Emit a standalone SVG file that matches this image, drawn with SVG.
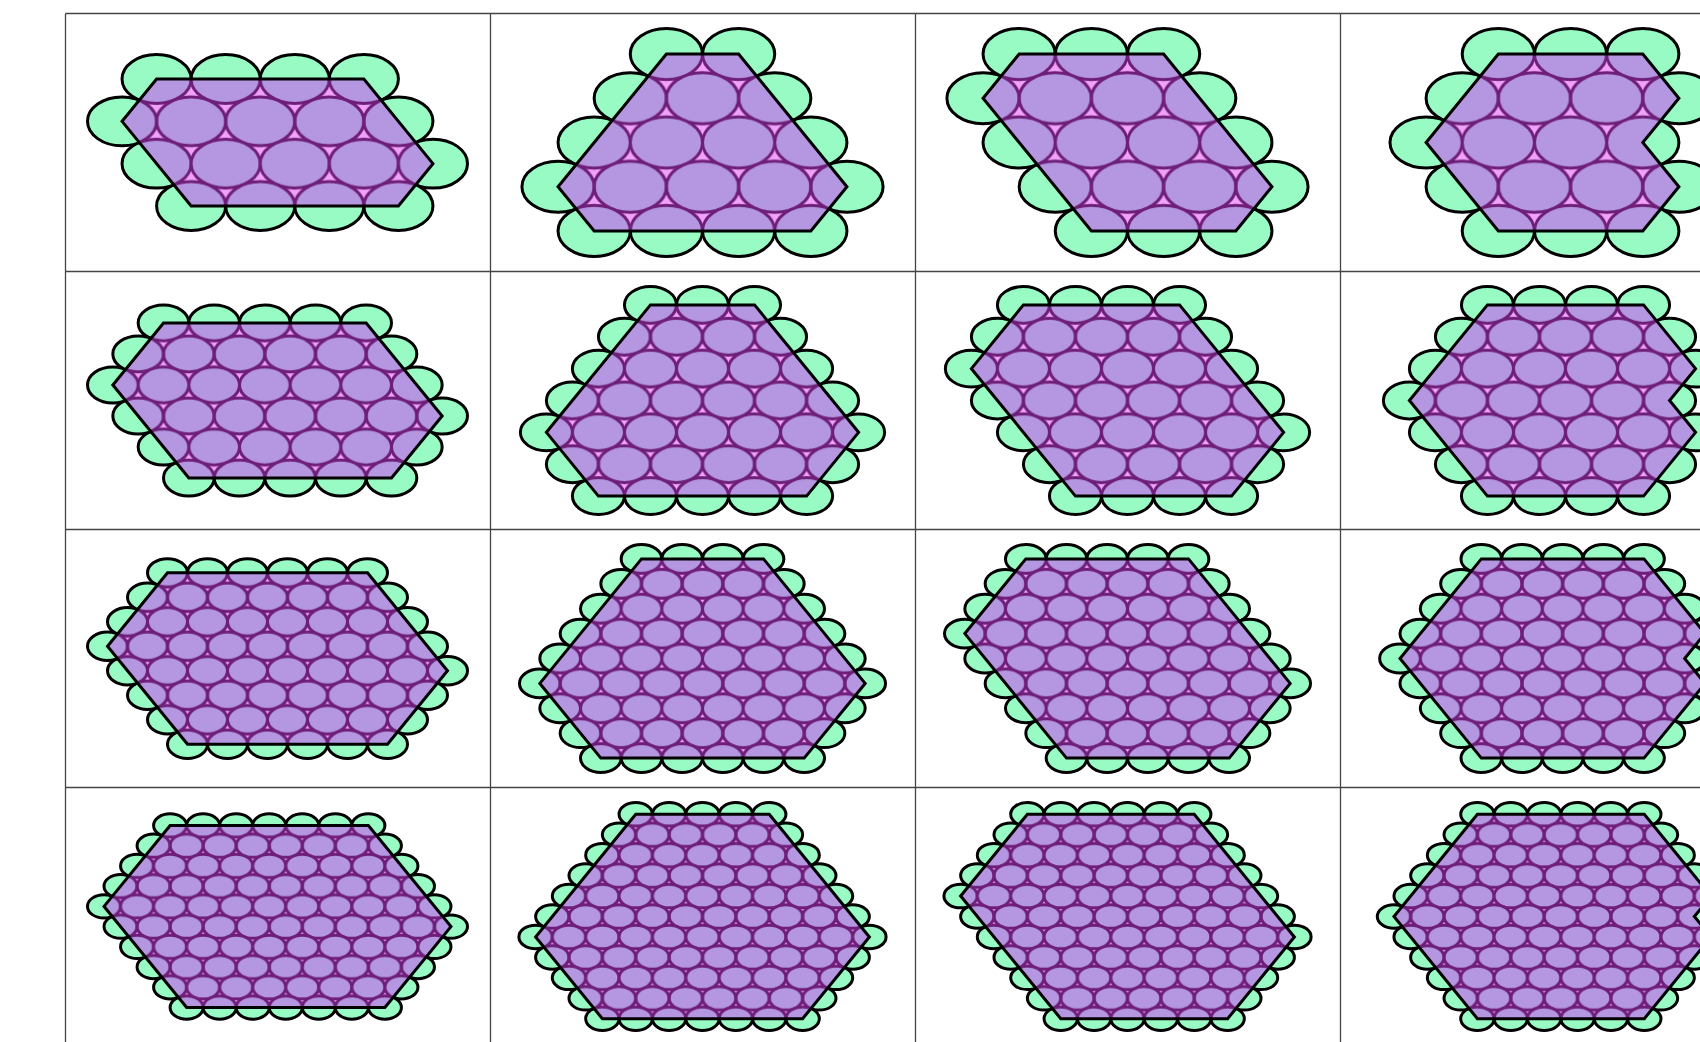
<svg xmlns="http://www.w3.org/2000/svg" xmlns:xlink="http://www.w3.org/1999/xlink" width="1700" height="1042" viewBox="0 0 1700 1042">
<style>
.gr{fill:#99fbc4;stroke:#000;stroke-width:3;vector-effect:non-scaling-stroke}
.hx{stroke:#000;stroke-width:3;stroke-linejoin:miter;vector-effect:non-scaling-stroke}
.pk{fill:#f0a2f8}
.pe ellipse{fill:#b497e0;stroke:#6e1e78;stroke-width:3}
#grid line{stroke:#444;stroke-width:1.3}
</style>
<defs>
<ellipse id="g" class="gr" rx="1" ry="0.57735"/>
<pattern id="pA0" patternUnits="userSpaceOnUse" width="69.09" height="84.618" patternTransform="scale(0.028948 0.023636)"><rect x="-1" y="-1" width="71.09" height="86.618" class="pk"/><g class="pe"><ellipse rx="34.545" ry="24.427"/><ellipse cx="69.09" rx="34.545" ry="24.427"/><ellipse cx="34.545" cy="42.309" rx="34.545" ry="24.427"/><ellipse cy="84.618" rx="34.545" ry="24.427"/><ellipse cx="69.09" cy="84.618" rx="34.545" ry="24.427"/><ellipse cx="-34.545" cy="42.309" rx="34.545" ry="24.427"/><ellipse cx="103.635" cy="42.309" rx="34.545" ry="24.427"/></g></pattern>
<pattern id="pB0" patternUnits="userSpaceOnUse" width="72.23" height="88.464" patternTransform="scale(0.027689 0.022608)"><rect x="-1" y="-1" width="74.23" height="90.464" class="pk"/><g class="pe"><ellipse rx="36.115" ry="25.537"/><ellipse cx="72.23" rx="36.115" ry="25.537"/><ellipse cx="36.115" cy="44.232" rx="36.115" ry="25.537"/><ellipse cy="88.464" rx="36.115" ry="25.537"/><ellipse cx="72.23" cy="88.464" rx="36.115" ry="25.537"/><ellipse cx="-36.115" cy="44.232" rx="36.115" ry="25.537"/><ellipse cx="108.345" cy="44.232" rx="36.115" ry="25.537"/></g></pattern>
<pattern id="pA1" patternUnits="userSpaceOnUse" width="50.666" height="62.054" patternTransform="scale(0.039474 0.03223)"><rect x="-1" y="-1" width="52.666" height="64.054" class="pk"/><g class="pe"><ellipse rx="25.333" ry="17.913"/><ellipse cx="50.666" rx="25.333" ry="17.913"/><ellipse cx="25.333" cy="31.027" rx="25.333" ry="17.913"/><ellipse cy="62.054" rx="25.333" ry="17.913"/><ellipse cx="50.666" cy="62.054" rx="25.333" ry="17.913"/><ellipse cx="-25.333" cy="31.027" rx="25.333" ry="17.913"/><ellipse cx="75.999" cy="31.027" rx="25.333" ry="17.913"/></g></pattern>
<pattern id="pB1" patternUnits="userSpaceOnUse" width="52.038" height="63.734" patternTransform="scale(0.038433 0.03138)"><rect x="-1" y="-1" width="54.038" height="65.734" class="pk"/><g class="pe"><ellipse rx="26.019" ry="18.398"/><ellipse cx="52.038" rx="26.019" ry="18.398"/><ellipse cx="26.019" cy="31.867" rx="26.019" ry="18.398"/><ellipse cy="63.734" rx="26.019" ry="18.398"/><ellipse cx="52.038" cy="63.734" rx="26.019" ry="18.398"/><ellipse cx="-26.019" cy="31.867" rx="26.019" ry="18.398"/><ellipse cx="78.057" cy="31.867" rx="26.019" ry="18.398"/></g></pattern>
<pattern id="pA2" patternUnits="userSpaceOnUse" width="40" height="48.99" patternTransform="scale(0.05 0.040825)"><rect x="-1" y="-1" width="42" height="50.99" class="pk"/><g class="pe"><ellipse rx="20" ry="14.142"/><ellipse cx="40" rx="20" ry="14.142"/><ellipse cx="20" cy="24.495" rx="20" ry="14.142"/><ellipse cy="48.99" rx="20" ry="14.142"/><ellipse cx="40" cy="48.99" rx="20" ry="14.142"/><ellipse cx="-20" cy="24.495" rx="20" ry="14.142"/><ellipse cx="60" cy="24.495" rx="20" ry="14.142"/></g></pattern>
<pattern id="pB2" patternUnits="userSpaceOnUse" width="40.67" height="49.81" patternTransform="scale(0.049176 0.040153)"><rect x="-1" y="-1" width="42.67" height="51.81" class="pk"/><g class="pe"><ellipse rx="20.335" ry="14.379"/><ellipse cx="40.67" rx="20.335" ry="14.379"/><ellipse cx="20.335" cy="24.905" rx="20.335" ry="14.379"/><ellipse cy="49.81" rx="20.335" ry="14.379"/><ellipse cx="40.67" cy="49.81" rx="20.335" ry="14.379"/><ellipse cx="-20.335" cy="24.905" rx="20.335" ry="14.379"/><ellipse cx="61.005" cy="24.905" rx="20.335" ry="14.379"/></g></pattern>
<pattern id="pA3" patternUnits="userSpaceOnUse" width="33.044" height="40.47" patternTransform="scale(0.060525 0.049419)"><rect x="-1" y="-1" width="35.044" height="42.47" class="pk"/><g class="pe"><ellipse rx="16.522" ry="11.683"/><ellipse cx="33.044" rx="16.522" ry="11.683"/><ellipse cx="16.522" cy="20.235" rx="16.522" ry="11.683"/><ellipse cy="40.47" rx="16.522" ry="11.683"/><ellipse cx="33.044" cy="40.47" rx="16.522" ry="11.683"/><ellipse cx="-16.522" cy="20.235" rx="16.522" ry="11.683"/><ellipse cx="49.566" cy="20.235" rx="16.522" ry="11.683"/></g></pattern>
<pattern id="pB3" patternUnits="userSpaceOnUse" width="33.378" height="40.88" patternTransform="scale(0.05992 0.048924)"><rect x="-1" y="-1" width="35.378" height="42.88" class="pk"/><g class="pe"><ellipse rx="16.689" ry="11.801"/><ellipse cx="33.378" rx="16.689" ry="11.801"/><ellipse cx="16.689" cy="20.44" rx="16.689" ry="11.801"/><ellipse cy="40.88" rx="16.689" ry="11.801"/><ellipse cx="33.378" cy="40.88" rx="16.689" ry="11.801"/><ellipse cx="-16.689" cy="20.44" rx="16.689" ry="11.801"/><ellipse cx="50.067" cy="20.44" rx="16.689" ry="11.801"/></g></pattern>
</defs>
<rect width="1700" height="1042" fill="#fff"/>
<g id="grid">
<line x1="65.5" y1="13.5" x2="65.5" y2="1042"/>
<line x1="490.5" y1="13.5" x2="490.5" y2="1042"/>
<line x1="915.5" y1="13.5" x2="915.5" y2="1042"/>
<line x1="1340.5" y1="13.5" x2="1340.5" y2="1042"/>
<line x1="65.5" y1="13.5" x2="1700" y2="13.5"/>
<line x1="65.5" y1="271.5" x2="1700" y2="271.5"/>
<line x1="65.5" y1="529.5" x2="1700" y2="529.5"/>
<line x1="65.5" y1="787.5" x2="1700" y2="787.5"/>
</g>

<g id="cell-0-0" transform="translate(156.59 79.04) scale(34.545 42.309)">
<use href="#g"/><use href="#g" x="2"/><use href="#g" x="4"/><use href="#g" x="6"/><use href="#g" x="7" y="1"/><use href="#g" x="8" y="2"/><use href="#g" x="7" y="3"/><use href="#g" x="5" y="3"/><use href="#g" x="3" y="3"/><use href="#g" x="1" y="3"/><use href="#g" y="2"/><use href="#g" x="-1" y="1"/>
<polygon class="hx" fill="url(#pA0)" points="0,0 6,0 8,2 7,3 1,3 -1,1"/>
</g>
<g id="cell-0-1" transform="translate(666.39 54.04) scale(36.115 44.232)">
<use href="#g"/><use href="#g" x="2"/><use href="#g" x="3" y="1"/><use href="#g" x="4" y="2"/><use href="#g" x="5" y="3"/><use href="#g" x="4" y="4"/><use href="#g" x="2" y="4"/><use href="#g" y="4"/><use href="#g" x="-2" y="4"/><use href="#g" x="-3" y="3"/><use href="#g" x="-2" y="2"/><use href="#g" x="-1" y="1"/>
<polygon class="hx" fill="url(#pB0)" points="0,0 2,0 5,3 4,4 -2,4 -3,3"/>
</g>
<g id="cell-0-2" transform="translate(1019.15 54.04) scale(36.115 44.232)">
<use href="#g"/><use href="#g" x="2"/><use href="#g" x="4"/><use href="#g" x="5" y="1"/><use href="#g" x="6" y="2"/><use href="#g" x="7" y="3"/><use href="#g" x="6" y="4"/><use href="#g" x="4" y="4"/><use href="#g" x="2" y="4"/><use href="#g" x="1" y="3"/><use href="#g" y="2"/><use href="#g" x="-1" y="1"/>
<polygon class="hx" fill="url(#pB0)" points="0,0 4,0 7,3 6,4 2,4 -1,1"/>
</g>
<g id="cell-0-3" transform="translate(1498.33 54.04) scale(36.115 44.232)">
<use href="#g"/><use href="#g" x="2"/><use href="#g" x="4"/><use href="#g" x="5" y="1"/><use href="#g" x="4" y="2"/><use href="#g" x="5" y="3"/><use href="#g" x="4" y="4"/><use href="#g" x="2" y="4"/><use href="#g" y="4"/><use href="#g" x="-1" y="3"/><use href="#g" x="-2" y="2"/><use href="#g" x="-1" y="1"/>
<polygon class="hx" fill="url(#pB0)" points="0,0 4,0 5,1 4,2 5,3 4,4 0,4 -2,2"/>
</g>

<g id="cell-1-0" transform="translate(163.5 322.93) scale(25.333 31.027)">
<use href="#g"/><use href="#g" x="2"/><use href="#g" x="4"/><use href="#g" x="6"/><use href="#g" x="8"/><use href="#g" x="9" y="1"/><use href="#g" x="10" y="2"/><use href="#g" x="11" y="3"/><use href="#g" x="10" y="4"/><use href="#g" x="9" y="5"/><use href="#g" x="7" y="5"/><use href="#g" x="5" y="5"/><use href="#g" x="3" y="5"/><use href="#g" x="1" y="5"/><use href="#g" y="4"/><use href="#g" x="-1" y="3"/><use href="#g" x="-2" y="2"/><use href="#g" x="-1" y="1"/>
<polygon class="hx" fill="url(#pA1)" points="0,0 8,0 11,3 9,5 1,5 -2,2"/>
</g>
<g id="cell-1-1" transform="translate(650.46 304.9) scale(26.019 31.867)">
<use href="#g"/><use href="#g" x="2"/><use href="#g" x="4"/><use href="#g" x="5" y="1"/><use href="#g" x="6" y="2"/><use href="#g" x="7" y="3"/><use href="#g" x="8" y="4"/><use href="#g" x="7" y="5"/><use href="#g" x="6" y="6"/><use href="#g" x="4" y="6"/><use href="#g" x="2" y="6"/><use href="#g" y="6"/><use href="#g" x="-2" y="6"/><use href="#g" x="-3" y="5"/><use href="#g" x="-4" y="4"/><use href="#g" x="-3" y="3"/><use href="#g" x="-2" y="2"/><use href="#g" x="-1" y="1"/>
<polygon class="hx" fill="url(#pB1)" points="0,0 4,0 8,4 6,6 -2,6 -4,4"/>
</g>
<g id="cell-1-2" transform="translate(1023.42 304.9) scale(26.019 31.867)">
<use href="#g"/><use href="#g" x="2"/><use href="#g" x="4"/><use href="#g" x="6"/><use href="#g" x="7" y="1"/><use href="#g" x="8" y="2"/><use href="#g" x="9" y="3"/><use href="#g" x="10" y="4"/><use href="#g" x="9" y="5"/><use href="#g" x="8" y="6"/><use href="#g" x="6" y="6"/><use href="#g" x="4" y="6"/><use href="#g" x="2" y="6"/><use href="#g" x="1" y="5"/><use href="#g" y="4"/><use href="#g" x="-1" y="3"/><use href="#g" x="-2" y="2"/><use href="#g" x="-1" y="1"/>
<polygon class="hx" fill="url(#pB1)" points="0,0 6,0 10,4 8,6 2,6 -2,2"/>
</g>
<g id="cell-1-3" transform="translate(1487.45 304.9) scale(26.019 31.867)">
<use href="#g"/><use href="#g" x="2"/><use href="#g" x="4"/><use href="#g" x="6"/><use href="#g" x="7" y="1"/><use href="#g" x="8" y="2"/><use href="#g" x="7" y="3"/><use href="#g" x="8" y="4"/><use href="#g" x="7" y="5"/><use href="#g" x="6" y="6"/><use href="#g" x="4" y="6"/><use href="#g" x="2" y="6"/><use href="#g" y="6"/><use href="#g" x="-1" y="5"/><use href="#g" x="-2" y="4"/><use href="#g" x="-3" y="3"/><use href="#g" x="-2" y="2"/><use href="#g" x="-1" y="1"/>
<polygon class="hx" fill="url(#pB1)" points="0,0 6,0 8,2 7,3 8,4 6,6 0,6 -3,3"/>
</g>

<g id="cell-2-0" transform="translate(167.5 572.77) scale(20 24.495)">
<use href="#g"/><use href="#g" x="2"/><use href="#g" x="4"/><use href="#g" x="6"/><use href="#g" x="8"/><use href="#g" x="10"/><use href="#g" x="11" y="1"/><use href="#g" x="12" y="2"/><use href="#g" x="13" y="3"/><use href="#g" x="14" y="4"/><use href="#g" x="13" y="5"/><use href="#g" x="12" y="6"/><use href="#g" x="11" y="7"/><use href="#g" x="9" y="7"/><use href="#g" x="7" y="7"/><use href="#g" x="5" y="7"/><use href="#g" x="3" y="7"/><use href="#g" x="1" y="7"/><use href="#g" y="6"/><use href="#g" x="-1" y="5"/><use href="#g" x="-2" y="4"/><use href="#g" x="-3" y="3"/><use href="#g" x="-2" y="2"/><use href="#g" x="-1" y="1"/>
<polygon class="hx" fill="url(#pA2)" points="0,0 10,0 14,4 11,7 1,7 -3,3"/>
</g>
<g id="cell-2-1" transform="translate(641.5 558.88) scale(20.335 24.905)">
<use href="#g"/><use href="#g" x="2"/><use href="#g" x="4"/><use href="#g" x="6"/><use href="#g" x="7" y="1"/><use href="#g" x="8" y="2"/><use href="#g" x="9" y="3"/><use href="#g" x="10" y="4"/><use href="#g" x="11" y="5"/><use href="#g" x="10" y="6"/><use href="#g" x="9" y="7"/><use href="#g" x="8" y="8"/><use href="#g" x="6" y="8"/><use href="#g" x="4" y="8"/><use href="#g" x="2" y="8"/><use href="#g" y="8"/><use href="#g" x="-2" y="8"/><use href="#g" x="-3" y="7"/><use href="#g" x="-4" y="6"/><use href="#g" x="-5" y="5"/><use href="#g" x="-4" y="4"/><use href="#g" x="-3" y="3"/><use href="#g" x="-2" y="2"/><use href="#g" x="-1" y="1"/>
<polygon class="hx" fill="url(#pB2)" points="0,0 6,0 11,5 8,8 -2,8 -5,5"/>
</g>
<g id="cell-2-2" transform="translate(1025.83 558.88) scale(20.335 24.905)">
<use href="#g"/><use href="#g" x="2"/><use href="#g" x="4"/><use href="#g" x="6"/><use href="#g" x="8"/><use href="#g" x="9" y="1"/><use href="#g" x="10" y="2"/><use href="#g" x="11" y="3"/><use href="#g" x="12" y="4"/><use href="#g" x="13" y="5"/><use href="#g" x="12" y="6"/><use href="#g" x="11" y="7"/><use href="#g" x="10" y="8"/><use href="#g" x="8" y="8"/><use href="#g" x="6" y="8"/><use href="#g" x="4" y="8"/><use href="#g" x="2" y="8"/><use href="#g" x="1" y="7"/><use href="#g" y="6"/><use href="#g" x="-1" y="5"/><use href="#g" x="-2" y="4"/><use href="#g" x="-3" y="3"/><use href="#g" x="-2" y="2"/><use href="#g" x="-1" y="1"/>
<polygon class="hx" fill="url(#pB2)" points="0,0 8,0 13,5 10,8 2,8 -3,3"/>
</g>
<g id="cell-2-3" transform="translate(1481.33 558.88) scale(20.335 24.905)">
<use href="#g"/><use href="#g" x="2"/><use href="#g" x="4"/><use href="#g" x="6"/><use href="#g" x="8"/><use href="#g" x="9" y="1"/><use href="#g" x="10" y="2"/><use href="#g" x="11" y="3"/><use href="#g" x="10" y="4"/><use href="#g" x="11" y="5"/><use href="#g" x="10" y="6"/><use href="#g" x="9" y="7"/><use href="#g" x="8" y="8"/><use href="#g" x="6" y="8"/><use href="#g" x="4" y="8"/><use href="#g" x="2" y="8"/><use href="#g" y="8"/><use href="#g" x="-1" y="7"/><use href="#g" x="-2" y="6"/><use href="#g" x="-3" y="5"/><use href="#g" x="-4" y="4"/><use href="#g" x="-3" y="3"/><use href="#g" x="-2" y="2"/><use href="#g" x="-1" y="1"/>
<polygon class="hx" fill="url(#pB2)" points="0,0 8,0 11,3 10,4 11,5 8,8 0,8 -4,4"/>
</g>

<g id="cell-3-0" transform="translate(170.11 825.44) scale(16.522 20.235)">
<use href="#g"/><use href="#g" x="2"/><use href="#g" x="4"/><use href="#g" x="6"/><use href="#g" x="8"/><use href="#g" x="10"/><use href="#g" x="12"/><use href="#g" x="13" y="1"/><use href="#g" x="14" y="2"/><use href="#g" x="15" y="3"/><use href="#g" x="16" y="4"/><use href="#g" x="17" y="5"/><use href="#g" x="16" y="6"/><use href="#g" x="15" y="7"/><use href="#g" x="14" y="8"/><use href="#g" x="13" y="9"/><use href="#g" x="11" y="9"/><use href="#g" x="9" y="9"/><use href="#g" x="7" y="9"/><use href="#g" x="5" y="9"/><use href="#g" x="3" y="9"/><use href="#g" x="1" y="9"/><use href="#g" y="8"/><use href="#g" x="-1" y="7"/><use href="#g" x="-2" y="6"/><use href="#g" x="-3" y="5"/><use href="#g" x="-4" y="4"/><use href="#g" x="-3" y="3"/><use href="#g" x="-2" y="2"/><use href="#g" x="-1" y="1"/>
<polygon class="hx" fill="url(#pA3)" points="0,0 12,0 17,5 13,9 1,9 -4,4"/>
</g>
<g id="cell-3-1" transform="translate(635.74 814.3) scale(16.689 20.44)">
<use href="#g"/><use href="#g" x="2"/><use href="#g" x="4"/><use href="#g" x="6"/><use href="#g" x="8"/><use href="#g" x="9" y="1"/><use href="#g" x="10" y="2"/><use href="#g" x="11" y="3"/><use href="#g" x="12" y="4"/><use href="#g" x="13" y="5"/><use href="#g" x="14" y="6"/><use href="#g" x="13" y="7"/><use href="#g" x="12" y="8"/><use href="#g" x="11" y="9"/><use href="#g" x="10" y="10"/><use href="#g" x="8" y="10"/><use href="#g" x="6" y="10"/><use href="#g" x="4" y="10"/><use href="#g" x="2" y="10"/><use href="#g" y="10"/><use href="#g" x="-2" y="10"/><use href="#g" x="-3" y="9"/><use href="#g" x="-4" y="8"/><use href="#g" x="-5" y="7"/><use href="#g" x="-6" y="6"/><use href="#g" x="-5" y="5"/><use href="#g" x="-4" y="4"/><use href="#g" x="-3" y="3"/><use href="#g" x="-2" y="2"/><use href="#g" x="-1" y="1"/>
<polygon class="hx" fill="url(#pB3)" points="0,0 8,0 14,6 10,10 -2,10 -6,6"/>
</g>
<g id="cell-3-2" transform="translate(1027.37 814.3) scale(16.689 20.44)">
<use href="#g"/><use href="#g" x="2"/><use href="#g" x="4"/><use href="#g" x="6"/><use href="#g" x="8"/><use href="#g" x="10"/><use href="#g" x="11" y="1"/><use href="#g" x="12" y="2"/><use href="#g" x="13" y="3"/><use href="#g" x="14" y="4"/><use href="#g" x="15" y="5"/><use href="#g" x="16" y="6"/><use href="#g" x="15" y="7"/><use href="#g" x="14" y="8"/><use href="#g" x="13" y="9"/><use href="#g" x="12" y="10"/><use href="#g" x="10" y="10"/><use href="#g" x="8" y="10"/><use href="#g" x="6" y="10"/><use href="#g" x="4" y="10"/><use href="#g" x="2" y="10"/><use href="#g" x="1" y="9"/><use href="#g" y="8"/><use href="#g" x="-1" y="7"/><use href="#g" x="-2" y="6"/><use href="#g" x="-3" y="5"/><use href="#g" x="-4" y="4"/><use href="#g" x="-3" y="3"/><use href="#g" x="-2" y="2"/><use href="#g" x="-1" y="1"/>
<polygon class="hx" fill="url(#pB3)" points="0,0 10,0 16,6 12,10 2,10 -4,4"/>
</g>
<g id="cell-3-3" transform="translate(1477.4 814.3) scale(16.689 20.44)">
<use href="#g"/><use href="#g" x="2"/><use href="#g" x="4"/><use href="#g" x="6"/><use href="#g" x="8"/><use href="#g" x="10"/><use href="#g" x="11" y="1"/><use href="#g" x="12" y="2"/><use href="#g" x="13" y="3"/><use href="#g" x="14" y="4"/><use href="#g" x="13" y="5"/><use href="#g" x="14" y="6"/><use href="#g" x="13" y="7"/><use href="#g" x="12" y="8"/><use href="#g" x="11" y="9"/><use href="#g" x="10" y="10"/><use href="#g" x="8" y="10"/><use href="#g" x="6" y="10"/><use href="#g" x="4" y="10"/><use href="#g" x="2" y="10"/><use href="#g" y="10"/><use href="#g" x="-1" y="9"/><use href="#g" x="-2" y="8"/><use href="#g" x="-3" y="7"/><use href="#g" x="-4" y="6"/><use href="#g" x="-5" y="5"/><use href="#g" x="-4" y="4"/><use href="#g" x="-3" y="3"/><use href="#g" x="-2" y="2"/><use href="#g" x="-1" y="1"/>
<polygon class="hx" fill="url(#pB3)" points="0,0 10,0 14,4 13,5 14,6 10,10 0,10 -5,5"/>
</g>
</svg>
